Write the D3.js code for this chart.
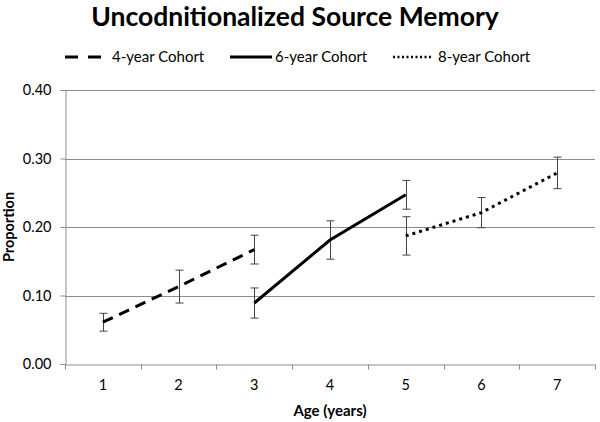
<!DOCTYPE html>
<html>
<head>
  <meta charset="utf-8" />
  <script src="https://cdn.jsdelivr.net/npm/d3@7"></script>
  <style>
    body { margin: 0; background: #fff; }
    text { font-family: Lato, "Open Sans", sans-serif; fill: #000; }
    .grid line { stroke: #8c8c8c; stroke-width: 1px; }
    .axis path, .axis line { stroke: #8c8c8c; }
    .err { stroke: #444; stroke-width: 1px; fill: none; }
    .series { fill: none; stroke: #000; stroke-width: 3px; }
  </style>
</head>
<body>
<script>
  "use strict";

  // categories (age in years)
  var ages = ["1", "2", "3", "4", "5", "6", "7"];
  var yTicks = [0, 0.1, 0.2, 0.3, 0.4];

  // cohort series: age, mean proportion, error
  var cohort4Age = ["1", "2", "3"];
  var cohort4Val = [0.061, 0.113, 0.167];
  var cohort4Err = [0.013, 0.024, 0.021];

  var cohort6Age = ["3", "4", "5"];
  var cohort6Val = [0.089, 0.181, 0.247];
  var cohort6Err = [0.022, 0.028, 0.021];

  var cohort8Age = ["5", "6", "7"];
  var cohort8Val = [0.187, 0.221, 0.279];
  var cohort8Err = [0.028, 0.022, 0.023];

  var series = [
    { name: "4-year Cohort", ages: cohort4Age, vals: cohort4Val, errs: cohort4Err, dash: "11,7", legendDash: "13,10", lw: 3 },
    { name: "6-year Cohort", ages: cohort6Age, vals: cohort6Val, errs: cohort6Err, dash: null, legendDash: null, lw: 3 },
    { name: "8-year Cohort", ages: cohort8Age, vals: cohort8Val, errs: cohort8Err, dash: "3,4", legendDash: "2,2.5", lw: 2.5 }
  ];

  var width = 600, height = 422;
  var margin = { left: 65, right: 595, top: 90, bottom: 364 };

  var svg = d3.select("body").append("svg")
    .attr("width", width)
    .attr("height", height);

  var x = d3.scaleBand().domain(ages).range([margin.left, margin.right]);
  var y = d3.scaleLinear().domain([0, 0.4]).range([margin.bottom, margin.top]);

  // gridlines
  svg.append("g").attr("class", "grid")
    .selectAll("line")
    .data(yTicks.slice(1))
    .join("line")
    .attr("x1", margin.left).attr("x2", margin.right)
    .attr("y1", function(d) { return Math.round(y(d)) + 0.5; })
    .attr("y2", function(d) { return Math.round(y(d)) + 0.5; });

  // y axis
  var yAxis = svg.append("g").attr("class", "axis")
    .attr("transform", "translate(" + (margin.left + 0.5) + ",0)")
    .call(d3.axisLeft(y).tickValues(yTicks).tickFormat(d3.format(".2f")).tickSizeOuter(0).tickSize(5).tickPadding(9));
  yAxis.selectAll("text").style("font-size", "14.5px").style("font-family", "Lato, sans-serif");

  // x axis with ticks at category boundaries
  var xAxis = svg.append("g").attr("class", "axis")
    .attr("transform", "translate(0," + (Math.round(margin.bottom) + 0.5) + ")")
    .call(d3.axisBottom(x).tickSize(0).tickSizeOuter(0).tickPadding(15));
  xAxis.selectAll("text").style("font-size", "14.5px").style("font-family", "Lato, sans-serif");
  xAxis.selectAll("line.bound")
    .data(d3.range(ages.length + 1))
    .join("line")
    .attr("class", "bound")
    .attr("x1", function(i) { return Math.round(margin.left + i * x.step()) + 0.5; })
    .attr("x2", function(i) { return Math.round(margin.left + i * x.step()) + 0.5; })
    .attr("y1", 0).attr("y2", 5)
    .attr("stroke", "#8c8c8c");

  var cx = function(a) { return x(a) + x.bandwidth() / 2; };

  var line = d3.line()
    .x(function(d) { return cx(d.age); })
    .y(function(d) { return y(d.val); });

  series.forEach(function(s) {
    var pts = s.ages.map(function(a, i) { return { age: a, val: s.vals[i], err: s.errs[i] }; });

    var g = svg.append("g");

    // error bars
    pts.forEach(function(p) {
      var px = Math.round(cx(p.age)) + 0.5;
      var y0 = y(p.val + p.err), y1 = y(p.val - p.err);
      g.append("line").attr("class", "err").attr("x1", px).attr("x2", px).attr("y1", y0).attr("y2", y1);
      g.append("line").attr("class", "err").attr("x1", px - 4).attr("x2", px + 4).attr("y1", y0).attr("y2", y0);
      g.append("line").attr("class", "err").attr("x1", px - 4).attr("x2", px + 4).attr("y1", y1).attr("y2", y1);
    });

    g.append("path")
      .datum(pts)
      .attr("class", "series")
      .attr("d", line)
      .attr("stroke-dasharray", s.dash);
  });

  // title
  svg.append("text")
    .attr("x", 295).attr("y", 26)
    .attr("text-anchor", "middle")
    .style("font-size", "26.5px").style("font-weight", "bold")
    .text("Uncodnitionalized Source Memory");

  // legend
  var legendX = [65, 230, 393];
  var legendLen = [36, 42, 39];
  var legendText = [112, 275, 438];
  var legend = svg.append("g");
  series.forEach(function(s, i) {
    var lx = legendX[i];
    legend.append("line")
      .attr("x1", lx).attr("x2", lx + legendLen[i])
      .attr("y1", 57).attr("y2", 57)
      .attr("stroke", "#000").attr("stroke-width", s.lw)
      .attr("stroke-dasharray", s.legendDash);
    legend.append("text")
      .attr("x", legendText[i]).attr("y", 62)
      .style("font-size", "15px")
      .text(s.name);
  });

  // axis titles
  svg.append("text")
    .attr("transform", "translate(14," + ((margin.top + margin.bottom) / 2) + ") rotate(-90)")
    .attr("text-anchor", "middle")
    .style("font-size", "14.5px").style("font-weight", "bold")
    .text("Proportion");

  svg.append("text")
    .attr("x", (margin.left + margin.right) / 2).attr("y", 416)
    .attr("text-anchor", "middle")
    .style("font-size", "15px").style("font-weight", "bold")
    .text("Age (years)");
</script>
</body>
</html>
